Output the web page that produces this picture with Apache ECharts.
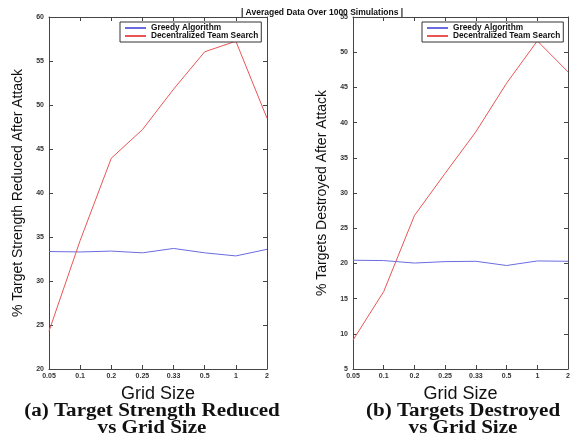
<!DOCTYPE html>
<html><head><meta charset="utf-8">
<script src="https://cdn.jsdelivr.net/npm/echarts@6/dist/echarts.min.js"></script>
<style>html,body{margin:0;padding:0;background:#fff;}#c{width:573px;height:435px;}</style>
</head><body><div id="c"></div>
<script>
const categories = ['0.05','0.1','0.2','0.25','0.33','0.5','1','2'];
const greedyStrength = [33.35, 33.3, 33.4, 33.2, 33.7, 33.2, 32.85, 33.6];
const dtsStrength = [24.3, 34.6, 43.95, 47.2, 51.8, 56.05, 57.25, 48.5];
const greedyDestroyed = [20.45, 20.4, 20.05, 20.25, 20.3, 19.7, 20.35, 20.3];
const dtsDestroyed = [9.1, 16.0, 26.8, 32.8, 38.7, 45.6, 51.6, 47.2];
const leftTicks = {min: 20, max: 60, interval: 5};
const rightTicks = {min: 5, max: 55, interval: 5};

const chart = echarts.init(document.getElementById('c'));
const blue = '#6b6be0', red = '#e85555', axisCol = '#444';
const lab = {fontSize: 7, fontWeight: 'bold', color: '#333', fontFamily: 'Liberation Sans'};
function xAx(grid, pos, show) {
  return {type: 'category', gridIndex: grid, data: categories, boundaryGap: false, position: pos,
    axisLine: {show: true, lineStyle: {color: axisCol, width: 1}},
    axisTick: {show: true, inside: true, length: 4, lineStyle: {color: axisCol}},
    axisLabel: Object.assign({show: show, margin: 4}, lab),
    name: show ? 'Grid Size' : '', nameLocation: 'middle', nameGap: 14,
    nameTextStyle: {fontSize: 18, color: '#111', fontFamily: 'Liberation Sans'},
    splitLine: {show: false}};
}
function yAx(grid, pos, show, t, name) {
  return {type: 'value', gridIndex: grid, min: t.min, max: t.max, interval: t.interval, position: pos,
    axisLine: {show: true, lineStyle: {color: axisCol, width: 1}},
    axisTick: {show: true, inside: true, length: 4, lineStyle: {color: axisCol}},
    axisLabel: Object.assign({show: show, margin: 5}, lab),
    name: show ? name : '', nameLocation: 'middle', nameGap: 24, nameRotate: 90,
    nameTextStyle: {fontSize: 14, color: '#111', fontFamily: 'Liberation Sans'},
    splitLine: {show: false}};
}
function legend(left) {
  return {orient: 'vertical', left: left, top: 22, itemWidth: 21, itemHeight: 2, itemGap: 0,
    padding: [2, 3, 2, 4], borderColor: '#333', borderWidth: 1, backgroundColor: '#fff',
    textStyle: {fontSize: 8.3, fontWeight: 'bold', color: '#111', fontFamily: 'Liberation Sans', lineHeight: 8},
    data: ['Greedy Algorithm', 'Decentralized Team Search']};
}
function line(name, data, color, x, y) {
  return {name: name, type: 'line', data: data, xAxisIndex: x, yAxisIndex: y, symbol: 'none',
    lineStyle: {color: color, width: 1}, itemStyle: {color: color}, animation: false};
}
function cap(text, cx, cy) {
  return {type: 'text', x: cx, y: cy, scaleX: 1.17, scaleY: 1,
    style: {text: text, x: 0, y: 0, align: 'center', verticalAlign: 'middle',
    fontSize: 18, fontWeight: 'bold', fontFamily: 'Liberation Serif', fill: '#111'}};
}
chart.setOption({
  animation: false,
  title: {text: '| Averaged Data Over 1000 Simulations |', left: 317, top: 3, textAlign: 'center',
    textStyle: {fontSize: 8.5, fontWeight: 'bold', color: '#111', fontFamily: 'Liberation Sans'}},
  grid: [{left: 49, top: 17, width: 218, height: 352}, {left: 353, top: 17, width: 217, height: 352}],
  legend: [legend(120), legend(422)],
  xAxis: [xAx(0, 'bottom', true), xAx(0, 'top', false), xAx(1, 'bottom', true), xAx(1, 'top', false)],
  yAxis: [yAx(0, 'left', true, leftTicks, '% Target Strength Reduced After Attack'), yAx(0, 'right', false, leftTicks, ''),
          yAx(1, 'left', true, rightTicks, '% Targets Destroyed After Attack'), yAx(1, 'right', false, rightTicks, '')],
  series: [
    line('Greedy Algorithm', greedyStrength, blue, 0, 0),
    line('Decentralized Team Search', dtsStrength, red, 0, 0),
    line('Greedy Algorithm', greedyDestroyed, blue, 2, 2),
    line('Decentralized Team Search', dtsDestroyed, red, 2, 2)
  ],
  graphic: [
    cap('(a) Target Strength Reduced', 152, 411),
    cap('vs Grid Size', 152, 428),
    cap('(b) Targets Destroyed', 463, 411),
    cap('vs Grid Size', 463, 428)
  ]
});
</script></body></html>
